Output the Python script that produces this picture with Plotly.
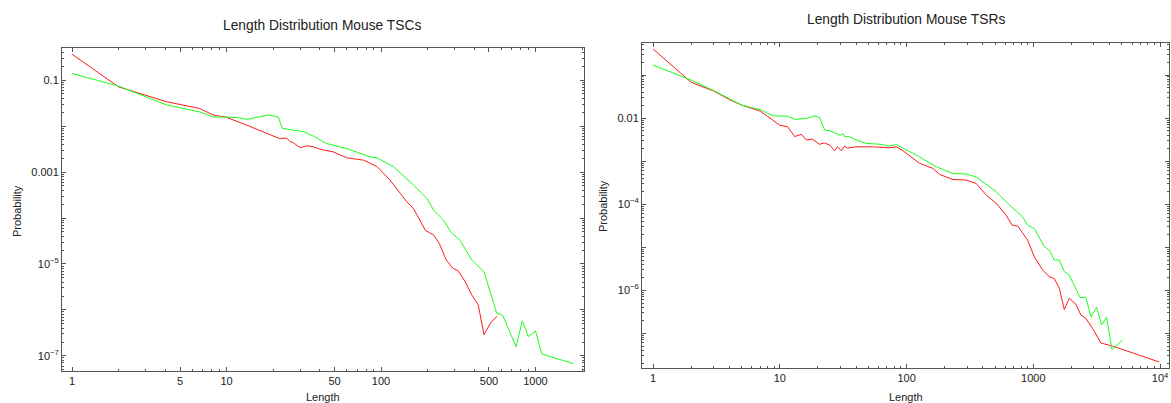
import plotly.graph_objects as go

# TSCs (left panel)
tsc_red_x = [1, 2, 4.1, 6.7, 8.2, 10, 13.5, 18, 22, 24.5, 25.8, 27, 30, 33, 36.5, 40, 49, 60, 77, 94,
             114, 133, 147, 162, 194, 219, 238, 264, 291, 316, 350, 386, 426, 464, 513, 566]
tsc_red_y = [0.367, 0.0714, 0.0339, 0.0242, 0.0174, 0.0155, 0.0105, 0.00692, 0.00537, 0.0055, 0.00457,
             0.00437, 0.00339, 0.00372, 0.00355, 0.00316, 0.00275, 0.00204, 0.00182, 0.00132,
             0.000676, 0.000347, 0.000224, 0.000162, 5.37e-5, 4.27e-5, 2.82e-5, 1.23e-5, 8.13e-6,
             7.08e-6, 4.17e-6, 2.14e-6, 1.29e-6, 2.88e-7, 5.25e-7, 7.41e-7]
tsc_green_x = [1, 2, 4.1, 6.7, 8.2, 10, 12.2, 13.5, 15.7, 18.7, 21.6, 23, 31.4, 36.5, 44.5, 60, 85, 94,
               120, 162, 198, 219, 253, 287, 324, 386, 464, 561, 614, 748, 822, 899, 1000, 1098, 1758]
tsc_green_y = [0.14, 0.0741, 0.0288, 0.0204, 0.0158, 0.0158, 0.0151, 0.014, 0.0155, 0.0174, 0.0158,
               0.00891, 0.00759, 0.00603, 0.00417, 0.00324, 0.00214, 0.00204, 0.00132, 0.000525,
               0.000269, 0.000148, 9.12e-5, 4.68e-5, 3.31e-5, 1.23e-5, 6.76e-6, 8.51e-7, 7.59e-7,
               1.58e-7, 5.75e-7, 2.63e-7, 3.47e-7, 1.10e-7, 6.76e-8]

# TSRs (right panel)
tsr_red_x = [1, 2, 3, 4, 5, 6, 7, 8, 9, 10, 11.5, 13.1, 14.8, 16.2, 18, 20.6, 22.5, 24.8, 27.1, 28.5,
             30.6, 32.5, 34, 40, 54, 73.5, 83, 93.6, 126, 161, 182, 232, 295, 354, 425, 508, 610, 680,
             752, 902, 1019, 1183, 1336, 1463, 1603, 1754, 1920, 2166, 2373, 2600, 2932, 3412, 4209, 9820]
tsr_red_y = [0.403, 0.0676, 0.0427, 0.0269, 0.02, 0.0166, 0.0145, 0.011, 0.00871, 0.00676, 0.00631,
             0.00372, 0.00417, 0.00309, 0.00324, 0.00245, 0.00263, 0.00234, 0.00174, 0.00214, 0.00174,
             0.00224, 0.002, 0.00214, 0.00214, 0.00204, 0.00214, 0.00174, 0.000891, 0.000676, 0.00049,
             0.000372, 0.000363, 0.000302, 0.000162, 0.000105, 5.5e-5, 3.24e-5, 3.09e-5, 1.45e-5,
             5.89e-6, 2.95e-6, 2.04e-6, 1.86e-6, 1.1e-6, 3.55e-7, 6.46e-7, 4.68e-7, 2.63e-7, 2.19e-7,
             1.29e-7, 5.89e-8, 5.01e-8, 2.14e-8]
tsr_green_x = [1, 2, 3, 4, 5, 6, 7, 8, 9, 10, 11.5, 13.1, 16.2, 18.9, 20.6, 22.6, 25, 27.9, 30, 31.5,
               32.5, 35, 40, 48, 63, 73.5, 83, 93.6, 126, 171, 232, 295, 354, 508, 648, 824, 902, 1019,
               1222, 1336, 1463, 1603, 1754, 1920, 2104, 2333, 2600, 2845, 3154, 3452, 3780, 4168, 5050]
tsr_green_y = [0.171, 0.0759, 0.0437, 0.0275, 0.02, 0.0174, 0.0158, 0.0129, 0.0112, 0.0112, 0.011,
               0.00933, 0.00977, 0.0112, 0.0102, 0.00525, 0.00501, 0.00437, 0.00398, 0.00437, 0.00372,
               0.00372, 0.00309, 0.00257, 0.00245, 0.00224, 0.0024, 0.002, 0.00126, 0.000741, 0.000513,
               0.000501, 0.000427, 0.000195, 9.55e-5, 5.01e-5, 3.24e-5, 2.69e-5, 1.02e-5, 8.51e-6,
               5.01e-6, 5.01e-6, 2.69e-6, 2.24e-6, 1.32e-6, 6.76e-7, 6.76e-7, 2.4e-7, 3.98e-7, 1.55e-7,
               2.34e-7, 4.17e-8, 6.92e-8]

# tick labels
left_x_ticks = [1, 5, 10, 50, 100, 500, 1000]
left_x_text = ["1", "5", "10", "50", "100", "500", "1000"]
left_y_ticks = [1e-7, 1e-6, 1e-5, 1e-4, 1e-3, 1e-2, 1e-1]
left_y_text = ["10<sup>−7</sup>", "", "10<sup>−5</sup>", "", "0.001", "", "0.1"]
right_x_ticks = [1, 10, 100, 1000, 10000]
right_x_text = ["1", "10", "100", "1000", "10<sup>4</sup>"]
right_y_ticks = [1e-7, 1e-6, 1e-5, 1e-4, 1e-3, 1e-2, 1e-1]
right_y_text = ["", "10<sup>−6</sup>", "", "10<sup>−4</sup>", "", "0.01", ""]

RED = "#ff1a1a"
GREEN = "#1aff1a"
FRAME = "#555555"
FONT = "Liberation Sans, Arial, sans-serif"

minor_x = [k * 10 ** e for e in range(0, 4) for k in range(2, 10)]
minor_y = [k * 10.0 ** e for e in range(-9, 0) for k in range(2, 10)]

fig = go.Figure()
fig.add_trace(go.Scatter(x=tsc_red_x, y=tsc_red_y, mode="lines", line=dict(color=RED, width=1), xaxis="x", yaxis="y"))
fig.add_trace(go.Scatter(x=tsc_green_x, y=tsc_green_y, mode="lines", line=dict(color=GREEN, width=1), xaxis="x", yaxis="y"))
fig.add_trace(go.Scatter(x=tsr_red_x, y=tsr_red_y, mode="lines", line=dict(color=RED, width=1), xaxis="x2", yaxis="y2"))
fig.add_trace(go.Scatter(x=tsr_green_x, y=tsr_green_y, mode="lines", line=dict(color=GREEN, width=1), xaxis="x2", yaxis="y2"))


def axis_style(**kw):
    d = dict(type="log", showline=True, linecolor=FRAME, linewidth=1, mirror="allticks",
             ticks="inside", ticklen=4, tickcolor=FRAME, showgrid=False, zeroline=False,
             automargin=False, tickmode="array",
             tickfont=dict(size=11, color="#222222", family=FONT))
    d.update(kw)
    return d


def minor_ticks(vals):
    return dict(ticks="inside", ticklen=2, tickcolor=FRAME, tickmode="array", tickvals=vals, showgrid=False)


lx_minor = [v for v in minor_x if v not in left_x_ticks]
fig.update_layout(
    width=1171, height=403,
    margin=dict(l=0, r=0, t=0, b=0),
    paper_bgcolor="white", plot_bgcolor="white",
    showlegend=False,
    font=dict(family=FONT, size=11, color="#222222"),
    xaxis=axis_style(domain=[62 / 1171, 584 / 1171], range=[-0.065, 3.314], anchor="y",
                     tickvals=left_x_ticks, ticktext=left_x_text, minor=minor_ticks(lx_minor)),
    yaxis=axis_style(domain=[1 - 371 / 403, 1 - 48 / 403], range=[-7.33, -0.30], anchor="x",
                     tickvals=left_y_ticks, ticktext=left_y_text, minor=minor_ticks(minor_y)),
    xaxis2=axis_style(domain=[642 / 1171, 1169 / 1171], range=[-0.087, 4.07], anchor="y2",
                      tickvals=right_x_ticks, ticktext=right_x_text, minor=minor_ticks(minor_x)),
    yaxis2=axis_style(domain=[1 - 368 / 403, 1 - 43 / 403], range=[-7.81, -0.256], anchor="x2",
                      tickvals=right_y_ticks, ticktext=right_y_text, minor=minor_ticks(minor_y)),
)

# titles and axis labels
labels = [
    ("Length Distribution Mouse TSCs", 322, 25, 0, 13.8),
    ("Length Distribution Mouse TSRs", 906, 19, 0, 13.8),
    ("Length", 323, 397, 0, 11),
    ("Length", 906, 397, 0, 11),
    ("Probability", 17, 211, -90, 11),
    ("Probability", 603, 206, -90, 11),
]
for text, x, y, ang, size in labels:
    fig.add_annotation(text=text, x=x / 1171, y=1 - y / 403, xref="paper", yref="paper",
                       showarrow=False, textangle=ang, xanchor="center", yanchor="middle",
                       font=dict(size=size, color="#222222", family=FONT))

# page body has a default 8px margin, drop it so the figure sits at the top-left corner
fig.write_html("out.html", config={"displayModeBar": False},
               post_script="document.body.style.margin='0';")
